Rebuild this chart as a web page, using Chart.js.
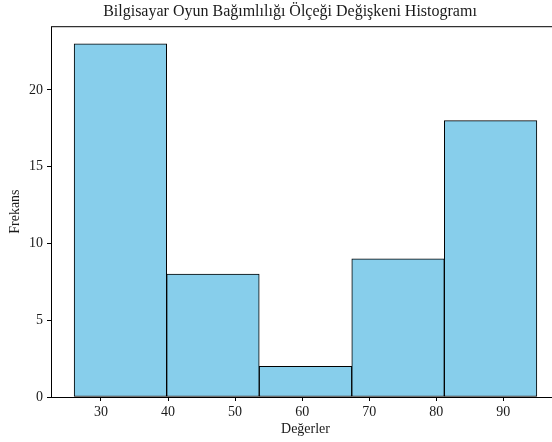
<!DOCTYPE html>
<html>
<head>
<meta charset="utf-8">
<script src="https://cdn.jsdelivr.net/npm/chart.js@4/dist/chart.umd.min.js"></script>
<style>
  html, body { margin: 0; padding: 0; background: #fff; overflow: hidden; }
  #wrap { width: 580px; height: 442px; }
</style>
</head>
<body>
<div id="wrap"><canvas id="chart"></canvas></div>
<script>
// Datos del histograma
const binEdges = [26, 39.8, 53.6, 67.4, 81.2, 95];
const counts = [23, 8, 2, 9, 18];
const xTicks = [30, 40, 50, 60, 70, 80, 90];
const yTicks = [0, 5, 10, 15, 20];

const titleText = 'Bilgisayar Oyun Bağımlılığı Ölçeği Değişkeni Histogramı';
const xLabel = 'Değerler';
const yLabel = 'Frekans';

// Puntos centrados en cada intervalo
const points = counts.map((c, i) => ({ x: (binEdges[i] + binEdges[i + 1]) / 2, y: c }));

const span = binEdges[binEdges.length - 1] - binEdges[0];
const xMin = binEdges[0] - span * 0.05;
const xMax = binEdges[binEdges.length - 1] + span * 0.05;
const yMax = Math.max(...counts) * 1.05;

const serif = 'Liberation Serif';
const textColor = '#1a1a1a';

// Marco negro alrededor del área del gráfico
const frame = {
    id: 'frame',
    afterDraw(chart) {
        const { ctx, chartArea: a } = chart;
        ctx.save();
        ctx.strokeStyle = '#000';
        ctx.lineWidth = 1;
        ctx.strokeRect(a.left + 0.5, a.top + 0.5, a.right - a.left, a.bottom - a.top);
        ctx.restore();
    }
};

const ctx = document.getElementById('chart').getContext('2d');

const chart = new Chart(ctx, {
    type: 'bar',
    data: {
        datasets: [{
            label: 'Frekans',
            data: points,
            backgroundColor: '#87CEEB',
            borderColor: '#000',
            borderWidth: 1,
            borderSkipped: false,
            barPercentage: 1,
            categoryPercentage: 1,
            grouped: false
        }]
    },
    options: {
        responsive: true,
        maintainAspectRatio: false,
        animation: false,
        layout: { padding: { left: 20, right: 20, top: 0, bottom: 0 } },
        plugins: {
            legend: { display: false },
            tooltip: { enabled: false },
            title: {
                display: true,
                text: titleText,
                color: textColor,
                font: { family: serif, size: 16, weight: 'normal' },
                padding: { top: 2, bottom: 5 }
            }
        },
        scales: {
            x: {
                type: 'linear',
                min: xMin,
                max: xMax,
                offset: false,
                afterBuildTicks: s => { s.ticks = xTicks.map(v => ({ value: v })); },
                afterFit: s => { s.height = 45; },
                grid: { display: true, drawOnChartArea: false, drawTicks: true, tickLength: 4, color: '#000', offset: false },
                border: { display: false },
                ticks: { color: textColor, padding: 3, maxRotation: 0, font: { family: serif, size: 14 } },
                title: { display: true, text: xLabel, color: textColor, font: { family: serif, size: 14 }, padding: { top: 4, bottom: 4 } }
            },
            y: {
                min: 0,
                max: yMax,
                afterBuildTicks: s => { s.ticks = yTicks.map(v => ({ value: v })); },
                afterFit: s => { s.width = 31; },
                grid: { display: true, drawOnChartArea: false, drawTicks: true, tickLength: 4, color: '#000' },
                border: { display: false },
                ticks: { color: textColor, padding: 4, font: { family: serif, size: 14 } },
                title: { display: true, text: yLabel, color: textColor, font: { family: serif, size: 14 }, padding: { top: -13, bottom: 0 } }
            }
        }
    },
    plugins: [frame]
});

// Ancho de barra = ancho del intervalo en píxeles (las marcas del eje reducen el ancho por defecto)
const xs = chart.scales.x;
chart.data.datasets[0].barThickness = xs.getPixelForValue(binEdges[1]) - xs.getPixelForValue(binEdges[0]);
chart.update();
</script>
</body>
</html>
